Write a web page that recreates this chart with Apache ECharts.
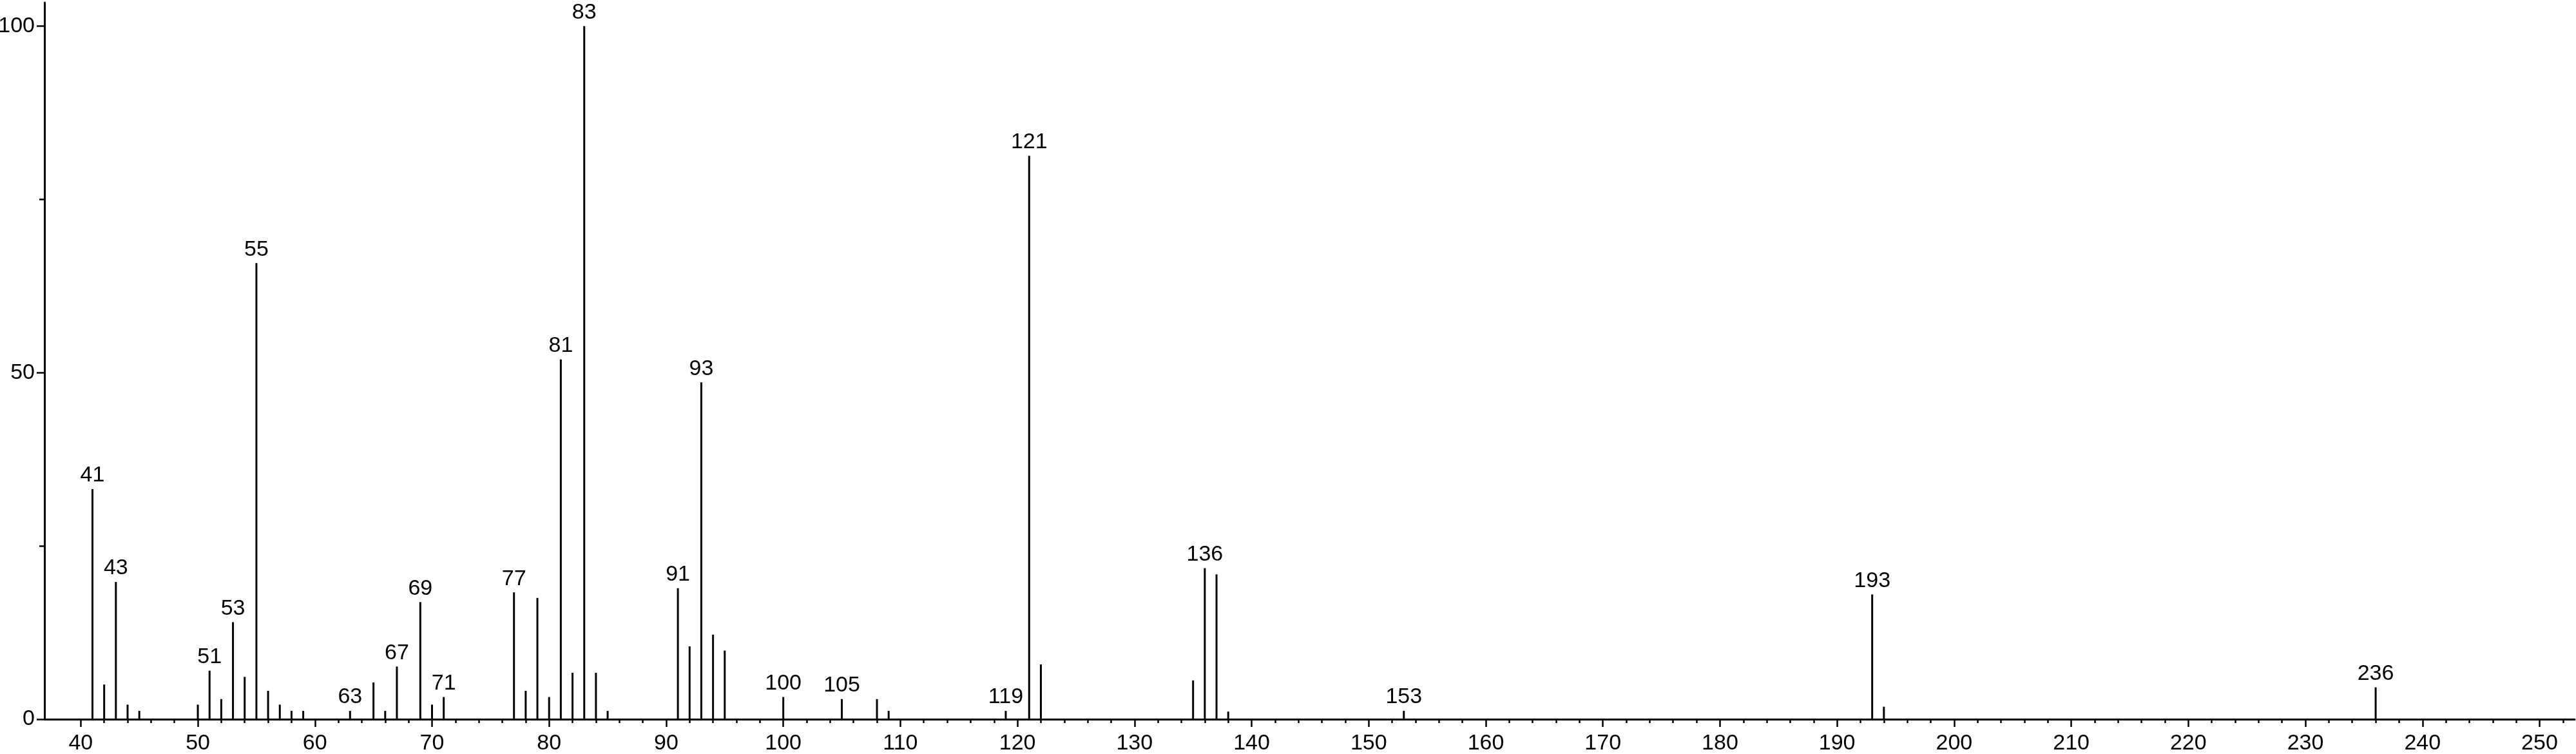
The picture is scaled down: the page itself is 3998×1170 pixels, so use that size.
<!DOCTYPE html>
<html>
<head>
<meta charset="utf-8">
<script src="https://cdn.jsdelivr.net/npm/echarts@6/dist/echarts.min.js"></script>
<style>
  html, body { margin: 0; padding: 0; background: #fff; }
  #chart { width: 3998px; height: 1170px; }
</style>
</head>
<body>
<div id="chart"></div>
<script>
// m/z values of the peaks
const mz = [41, 42, 43, 44, 45, 50, 51, 52, 53, 54, 55, 56, 57, 58, 59, 63, 65, 66, 67, 69, 70, 71,
            77, 78, 79, 80, 81, 82, 83, 84, 85, 91, 92, 93, 94, 95, 100, 105, 108, 109,
            119, 121, 122, 135, 136, 137, 138, 153, 193, 194, 236];
// relative intensities (%)
const intensity = [33.2, 5.0, 19.8, 2.1, 1.2, 2.1, 7.0, 2.9, 14.0, 6.1, 65.8, 4.1, 2.1, 1.2, 1.2, 1.2, 5.3, 1.2, 7.6, 16.9, 2.1, 3.2,
                   18.3, 4.1, 17.5, 3.2, 51.9, 6.7, 100, 6.7, 1.2, 18.9, 10.5, 48.6, 12.2, 9.9, 3.2, 2.9, 2.9, 1.2,
                   1.2, 81.3, 7.9, 5.6, 21.8, 20.9, 1.1, 1.2, 18.0, 1.8, 4.6];
// peaks that carry an m/z label
const labeledMz = [41, 43, 51, 53, 55, 63, 67, 69, 71, 77, 81, 83, 91, 93, 100, 105, 119, 121, 136, 153, 193, 236];

// axis ticks / labels
const xTickLabels = [40, 50, 60, 70, 80, 90, 100, 110, 120, 130, 140, 150, 160, 170, 180, 190, 200, 210, 220, 230, 240, 250];
const xMinorTicks = [42, 44, 46, 48, 52, 54, 56, 58, 62, 64, 66, 68, 72, 74, 76, 78, 82, 84, 86, 88,
                     92, 94, 96, 98, 102, 104, 106, 108, 112, 114, 116, 118, 122, 124, 126, 128,
                     132, 134, 136, 138, 142, 144, 146, 148, 152, 154, 156, 158, 162, 164, 166, 168,
                     172, 174, 176, 178, 182, 184, 186, 188, 192, 194, 196, 198, 202, 204, 206, 208,
                     212, 214, 216, 218, 222, 224, 226, 228, 232, 234, 236, 238, 242, 244, 246, 248, 252];
const yTickLabels = [0, 50, 100];
const yMinorTicks = [25, 75];

const X_MIN = 36.9, X_MAX = 253, Y_MIN = 0, Y_MAX = 103.4;
const FONT = 'Liberation Sans, Arial, Helvetica, sans-serif';

const seriesData = mz.map((m, i) => ({
  value: [m, intensity[i]],
  label: { show: labeledMz.includes(m) }
}));

const chart = echarts.init(document.getElementById('chart'), null, { renderer: 'canvas' });
chart.setOption({
  animation: false,
  backgroundColor: '#ffffff',
  grid: { left: 69, right: 2, top: 4, bottom: 54, containLabel: false, outerBoundsMode: 'none' },
  xAxis: [
    {
      type: 'value', min: X_MIN, max: X_MAX, position: 'bottom',
      axisLine: { show: true, onZero: false, lineStyle: { color: '#000', width: 3 } },
      axisTick: { show: true, customValues: xTickLabels, length: 12, lineStyle: { color: '#000', width: 2.5 } },
      axisLabel: { show: true, customValues: xTickLabels, color: '#000', fontSize: 34, fontFamily: FONT, margin: 21 },
      splitLine: { show: false }
    },
    {
      type: 'value', min: X_MIN, max: X_MAX, position: 'bottom', offset: 0,
      axisLine: { show: false },
      axisTick: { show: true, customValues: xMinorTicks, length: 6, lineStyle: { color: '#000', width: 2.5 } },
      axisLabel: { show: false },
      splitLine: { show: false }
    }
  ],
  yAxis: [
    {
      type: 'value', min: Y_MIN, max: Y_MAX, position: 'left',
      axisLine: { show: true, onZero: false, lineStyle: { color: '#000', width: 3 } },
      axisTick: { show: true, customValues: yTickLabels, length: 12, lineStyle: { color: '#000', width: 2.5 } },
      axisLabel: { show: true, customValues: yTickLabels, color: '#000', fontSize: 34, fontFamily: FONT, margin: 15 },
      splitLine: { show: false }
    },
    {
      type: 'value', min: Y_MIN, max: Y_MAX, position: 'left', offset: 0,
      axisLine: { show: false },
      axisTick: { show: true, customValues: yMinorTicks, length: 8, lineStyle: { color: '#000', width: 2.5 } },
      axisLabel: { show: false },
      splitLine: { show: false }
    }
  ],
  series: [{
    type: 'bar',
    xAxisIndex: 0, yAxisIndex: 0,
    barWidth: 3,
    itemStyle: { color: '#000' },
    label: {
      position: 'top', distance: 4, color: '#000', fontSize: 34, fontFamily: FONT,
      formatter: p => String(p.value[0])
    },
    data: seriesData
  }]
});
</script>
</body>
</html>
